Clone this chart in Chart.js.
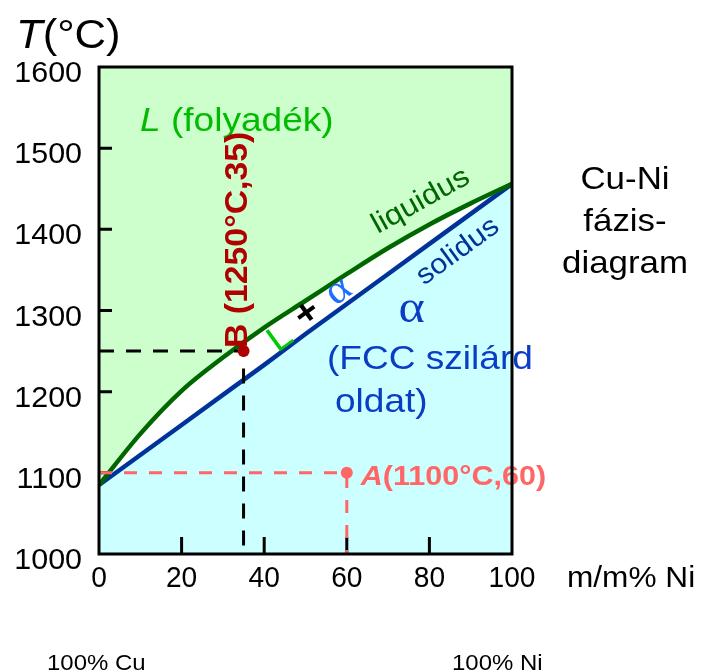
<!DOCTYPE html>
<html>
<head>
<meta charset="utf-8">
<title>Cu-Ni fázisdiagram</title>
<script src="https://cdn.jsdelivr.net/npm/chart.js@4/dist/chart.umd.min.js"></script>
<style>
  body { margin: 0; background: #fff; }
  canvas { display: block; }
</style>
</head>
<body>
<canvas id="phase_chart" width="704" height="672"></canvas>
<script>
// DIAGRAM DATA
const nickel = [0, 10, 20, 30, 40, 50, 60, 70, 80, 90, 100];
const liquidusT = [1085, 1148, 1201, 1242, 1279, 1312, 1345, 1377, 1406, 1432, 1456];
const solidusT = [1085, 1122, 1159, 1196, 1233, 1271, 1308, 1345, 1382, 1419, 1456];

const pointA = [60, 1100];
const pointB = [35, 1250];

const xTicks = [0, 20, 40, 60, 80, 100];
const yTicks = [1000, 1100, 1200, 1300, 1400, 1500, 1600];

const SANS = "'Liberation Sans', Arial, sans-serif";
const SERIF = "'Liberation Serif', 'Times New Roman', serif";
const STRETCH = 1.09;

const ctx = document.getElementById("phase_chart").getContext("2d");

function toPoints(xs, ys) {
  return xs.map((x, i) => ({ x: x, y: ys[i] }));
}

// guide: horizontal from the T axis, then down to the composition axis
function guide(p) {
  return [
    { x: 0, y: p[1] },
    { x: p[0], y: p[1] },
    { x: p[0], y: 1000 },
  ];
}

// TEXT HELPERS
function textRun(c, parts, x, y, opt) {
  opt = opt || {};
  c.save();
  c.translate(x, y);
  if (opt.angle) c.rotate((opt.angle * Math.PI) / 180);
  c.scale(opt.stretch || STRETCH, 1);
  c.textAlign = "left";
  c.textBaseline = "alphabetic";
  let total = 0;
  parts.forEach((p) => {
    c.font = p.font;
    total += c.measureText(p.text).width;
  });
  let cx = 0;
  if (opt.align === "center") cx = -total / 2;
  if (opt.align === "right") cx = -total;
  parts.forEach((p) => {
    c.font = p.font;
    c.fillStyle = p.color;
    c.fillText(p.text, cx, 0);
    cx += c.measureText(p.text).width;
  });
  c.restore();
}

// single glyph/word centred on its ink box
function centerText(c, text, x, y, font, color, angle) {
  c.save();
  c.translate(x, y);
  if (angle) c.rotate((angle * Math.PI) / 180);
  c.scale(STRETCH, 1);
  c.font = font;
  c.fillStyle = color;
  c.textAlign = "left";
  c.textBaseline = "alphabetic";
  const m = c.measureText(text);
  const w = m.actualBoundingBoxRight + m.actualBoundingBoxLeft;
  const h = m.actualBoundingBoxAscent + m.actualBoundingBoxDescent;
  c.fillText(text, -w / 2 + m.actualBoundingBoxLeft, h / 2 - m.actualBoundingBoxDescent);
  c.restore();
}

const diagramText = {
  id: "diagramText",
  beforeDatasetsDraw(chart) {
    // inward ticks, above the phase fills
    const c = chart.ctx;
    const area = chart.chartArea;
    const xs = chart.scales.x;
    const ys = chart.scales.y;
    c.save();
    c.strokeStyle = "#000";
    c.lineWidth = 3;
    c.beginPath();
    yTicks.slice(1, -1).forEach((t) => {
      const py = ys.getPixelForValue(t);
      c.moveTo(area.left, py);
      c.lineTo(area.left + 13, py);
    });
    xTicks.slice(1, -1).forEach((t) => {
      const px = xs.getPixelForValue(t);
      c.moveTo(px, area.bottom);
      c.lineTo(px, area.bottom - 17);
    });
    c.stroke();
    c.restore();
  },
  afterDatasetsDraw(chart) {
    const c = chart.ctx;
    const area = chart.chartArea;
    const xs = chart.scales.x;
    const ys = chart.scales.y;

    // axis title and tick labels
    textRun(c, [
      { text: "T", font: "italic 40px " + SANS, color: "#000" },
      { text: "(°C)", font: "40px " + SANS, color: "#000" },
    ], 16, 48);
    yTicks.forEach((t) => {
      textRun(c, [{ text: String(t), font: "29px " + SANS, color: "#000" }],
        82, ys.getPixelForValue(t) + 15, { align: "right", stretch: 1.05 });
    });
    xTicks.forEach((t) => {
      textRun(c, [{ text: String(t), font: "29px " + SANS, color: "#000" }],
        xs.getPixelForValue(t), 587, { align: "center", stretch: 0.97 });
    });
    textRun(c, [{ text: "m/m% Ni", font: "29px " + SANS, color: "#000" }], 567, 587);
    textRun(c, [{ text: "100% Cu", font: "22px " + SANS, color: "#000" }], 47, 670);
    textRun(c, [{ text: "100% Ni", font: "22px " + SANS, color: "#000" }], 452, 670);

    // title on the right
    ["Cu-Ni", "fázis-", "diagram"].forEach((line, i) => {
      textRun(c, [{ text: line, font: "32px " + SANS, color: "#000" }],
        625, 189 + i * 42, { align: "center" });
    });

    // phase fields
    textRun(c, [
      { text: "L", font: "italic 34px " + SANS, color: "#00bb00" },
      { text: " (folyadék)", font: "34px " + SANS, color: "#00bb00" },
    ], 140, 131);
    centerText(c, "liquidus", 421, 201, "29px " + SANS, "#006600", -29);
    centerText(c, "solidus", 456, 250, "28px " + SANS, "#003399", -36);
    centerText(c, "L", 279, 336, "36px " + SANS, "#00cc00", -36);
    centerText(c, "+", 306, 312, "bold 36px " + SANS, "#000", -36);
    centerText(c, "α", 339, 291, "40px " + SERIF, "#1f6fff", -36);
    centerText(c, "α", 412, 311, "46px " + SERIF, "#0b3cc4", 0);
    textRun(c, [{ text: "(FCC szilárd", font: "34px " + SANS, color: "#0b3cc4" }], 327, 369);
    textRun(c, [{ text: "oldat)", font: "34px " + SANS, color: "#0b3cc4" }], 335, 412);

    // state points
    const bx = xs.getPixelForValue(pointB[0]);
    const by = ys.getPixelForValue(pointB[1]);
    textRun(c, [{ text: "B (" + pointB[1] + "°C," + pointB[0] + ")", font: "bold 31px " + SANS, color: "#b00000" }],
      bx + 3, by - 3, { angle: -90 });
    const ax = xs.getPixelForValue(pointA[0]);
    const ay = ys.getPixelForValue(pointA[1]);
    textRun(c, [
      { text: "A", font: "italic bold 28px " + SANS, color: "#ff6666" },
      { text: "(" + pointA[1] + "°C," + pointA[0] + ")", font: "bold 28px " + SANS, color: "#ff6666" },
    ], ax + 14, ay + 12);

    // plot frame on top
    c.save();
    c.strokeStyle = "#000";
    c.lineWidth = 3;
    c.strokeRect(area.left, area.top, area.right - area.left, area.bottom - area.top);
    c.restore();
  },
};

new Chart(ctx, {
  type: "line",
  data: {
    datasets: [
      {
        label: "liquidus",
        data: toPoints(nickel, liquidusT),
        borderColor: "#006600",
        backgroundColor: "#ccffcc",
        borderWidth: 4.5,
        fill: "end",
        cubicInterpolationMode: "monotone",
        order: 3,
      },
      {
        label: "solidus",
        data: toPoints(nickel, solidusT),
        borderColor: "#003399",
        backgroundColor: "#ccffff",
        borderWidth: 4.5,
        fill: "start",
        cubicInterpolationMode: "monotone",
        order: 3,
      },
      {
        label: "B guide",
        data: guide(pointB),
        borderColor: "#000",
        borderWidth: 3,
        borderDash: [15, 12],
        fill: false,
        order: 2,
      },
      {
        label: "A guide",
        data: guide(pointA),
        borderColor: "#ff6666",
        borderWidth: 3,
        borderDash: [13, 12],
        fill: false,
        order: 2,
      },
      {
        label: "B",
        data: [{ x: pointB[0], y: pointB[1] }],
        showLine: false,
        pointRadius: 6,
        pointBackgroundColor: "#b00000",
        pointBorderWidth: 0,
        order: 1,
      },
      {
        label: "A",
        data: [{ x: pointA[0], y: pointA[1] }],
        showLine: false,
        pointRadius: 6,
        pointBackgroundColor: "#ff6666",
        pointBorderWidth: 0,
        order: 1,
      },
    ],
  },
  options: {
    responsive: false,
    animation: false,
    layout: { padding: { left: 99, top: 67, right: 192, bottom: 118 } },
    elements: { point: { radius: 0 } },
    scales: {
      x: { type: "linear", min: 0, max: 100, display: false },
      y: { type: "linear", min: 1000, max: 1600, display: false },
    },
    plugins: {
      legend: { display: false },
      tooltip: { enabled: false },
      filler: { drawTime: "beforeDatasetsDraw" },
    },
  },
  plugins: [diagramText],
});
</script>
</body>
</html>
